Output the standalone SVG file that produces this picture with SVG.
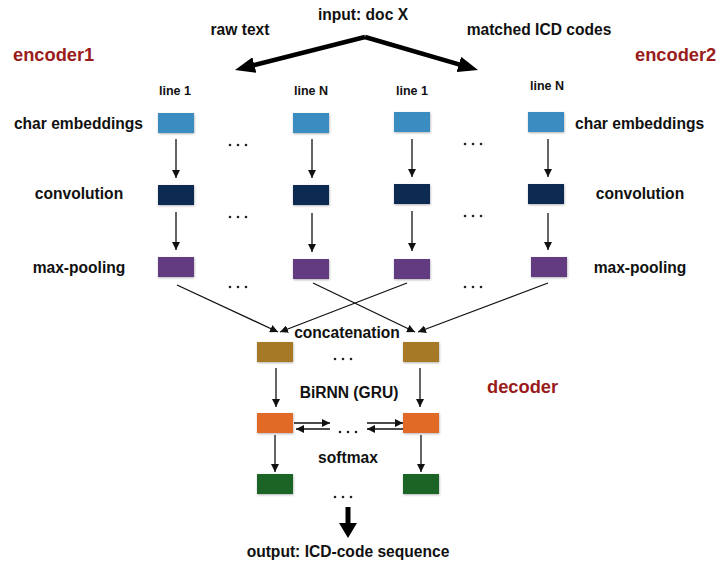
<svg xmlns="http://www.w3.org/2000/svg" width="720" height="563" viewBox="0 0 720 563">
<style>
text{font-family:"Liberation Sans",Arial,Helvetica,sans-serif;font-weight:bold;fill:#111}
.lbl{font-size:15.6px}
.sm{font-size:12.5px}
.ttl{font-size:18.3px;fill:#9a1b1b}
.top{font-size:15.6px}
.box{stroke:none;filter:url(#sh)}
.emb{fill:#3a8dc1}
.conv{fill:#0b2a53}
.pool{fill:#623a80}
.cat{fill:#a67925}
.rnn{fill:#e06b27}
.soft{fill:#1c6426}
.thin{stroke:#111;stroke-width:1.3;fill:none;marker-end:url(#ah)}
.thick{stroke:#000;stroke-width:4.5;fill:none;marker-end:url(#bh)}
.dot{fill:#222}
</style>
<defs>
<filter id="sh" x="-20%" y="-20%" width="140%" height="160%">
<feDropShadow dx="0.5" dy="1" stdDeviation="0.8" flood-color="#000" flood-opacity="0.3"/>
</filter>
<marker id="ah" markerUnits="userSpaceOnUse" viewBox="0 0 8 8" markerWidth="8" markerHeight="8" refX="8" refY="4" orient="auto">
<path d="M0,0 L8,4 L0,8 z" fill="#111"/>
</marker>
<marker id="bh" markerUnits="userSpaceOnUse" viewBox="0 0 20 16" markerWidth="20" markerHeight="16" refX="10" refY="8" orient="auto">
<path d="M0,0 L20,8 L0,16 z" fill="#000"/>
</marker>
</defs>

<g id="labels">
<text class="top" x="363" y="20" text-anchor="middle">input: doc X</text>
<text class="lbl" x="240" y="35" text-anchor="middle">raw text</text>
<text class="lbl" x="539" y="35" text-anchor="middle">matched ICD codes</text>
<text class="ttl" x="13" y="61">encoder1</text>
<text class="ttl" x="635" y="61">encoder2</text>
<text class="ttl" x="487" y="393">decoder</text>
<text class="sm" x="175" y="95" text-anchor="middle">line 1</text>
<text class="sm" x="311" y="95" text-anchor="middle">line N</text>
<text class="sm" x="412" y="95" text-anchor="middle">line 1</text>
<text class="sm" x="547" y="90" text-anchor="middle">line N</text>
<text class="lbl" x="143" y="129" text-anchor="end">char embeddings</text>
<text class="lbl" x="79" y="199" text-anchor="middle">convolution</text>
<text class="lbl" x="79" y="273" text-anchor="middle">max-pooling</text>
<text class="lbl" x="575" y="129">char embeddings</text>
<text class="lbl" x="640" y="199" text-anchor="middle">convolution</text>
<text class="lbl" x="640" y="273" text-anchor="middle">max-pooling</text>
<text class="lbl" x="347" y="338" text-anchor="middle">concatenation</text>
<text class="lbl" x="349" y="398" text-anchor="middle">BiRNN (GRU)</text>
<text class="lbl" x="348" y="463" text-anchor="middle">softmax</text>
<text class="top" x="348" y="557" text-anchor="middle">output: ICD-code sequence</text>
</g>

<g id="enc1-line1">
<rect id="e1-emb1" class="box emb" x="158" y="113" width="36" height="20"/>
<rect id="e1-conv1" class="box conv" x="158" y="185" width="36" height="20"/>
<rect id="e1-pool1" class="box pool" x="158" y="257" width="36" height="20"/>
</g>
<g id="enc1-lineN">
<rect id="e1-embN" class="box emb" x="293" y="113" width="36" height="20"/>
<rect id="e1-convN" class="box conv" x="293" y="185" width="36" height="20"/>
<rect id="e1-poolN" class="box pool" x="293" y="259" width="36" height="20"/>
</g>
<g id="enc2-line1">
<rect id="e2-emb1" class="box emb" x="394" y="112" width="36" height="20"/>
<rect id="e2-conv1" class="box conv" x="394" y="184" width="36" height="20"/>
<rect id="e2-pool1" class="box pool" x="394" y="259" width="36" height="20"/>
</g>
<g id="enc2-lineN">
<rect id="e2-embN" class="box emb" x="528" y="112" width="36" height="20"/>
<rect id="e2-convN" class="box conv" x="528" y="184" width="36" height="20"/>
<rect id="e2-poolN" class="box pool" x="531" y="257" width="36" height="20"/>
</g>
<g id="dec-1">
<rect id="cat1" class="box cat" x="257" y="342" width="36" height="20"/>
<rect id="rnn1" class="box rnn" x="257" y="413" width="36" height="20"/>
<rect id="soft1" class="box soft" x="257" y="474" width="36" height="20"/>
</g>
<g id="dec-N">
<rect id="catN" class="box cat" x="403" y="342" width="36" height="20"/>
<rect id="rnnN" class="box rnn" x="403" y="413" width="36" height="20"/>
<rect id="softN" class="box soft" x="403" y="474" width="36" height="20"/>
</g>

<g id="ellipses">
<circle class="dot" cx="230" cy="145" r="1.3"/><circle class="dot" cx="238" cy="145" r="1.3"/><circle class="dot" cx="246" cy="145" r="1.3"/>
<circle class="dot" cx="230" cy="217" r="1.3"/><circle class="dot" cx="238" cy="217" r="1.3"/><circle class="dot" cx="246" cy="217" r="1.3"/>
<circle class="dot" cx="230" cy="287" r="1.3"/><circle class="dot" cx="238" cy="287" r="1.3"/><circle class="dot" cx="246" cy="287" r="1.3"/>
<circle class="dot" cx="465" cy="144" r="1.3"/><circle class="dot" cx="473" cy="144" r="1.3"/><circle class="dot" cx="481" cy="144" r="1.3"/>
<circle class="dot" cx="465" cy="216" r="1.3"/><circle class="dot" cx="473" cy="216" r="1.3"/><circle class="dot" cx="481" cy="216" r="1.3"/>
<circle class="dot" cx="465" cy="287" r="1.3"/><circle class="dot" cx="473" cy="287" r="1.3"/><circle class="dot" cx="481" cy="287" r="1.3"/>
<circle class="dot" cx="335" cy="359" r="1.3"/><circle class="dot" cx="343" cy="359" r="1.3"/><circle class="dot" cx="351" cy="359" r="1.3"/>
<circle class="dot" cx="340" cy="432" r="1.3"/><circle class="dot" cx="348" cy="432" r="1.3"/><circle class="dot" cx="356" cy="432" r="1.3"/>
<circle class="dot" cx="335" cy="497" r="1.3"/><circle class="dot" cx="343" cy="497" r="1.3"/><circle class="dot" cx="351" cy="497" r="1.3"/>
</g>

<g id="connectors">
<line class="thick" x1="365" y1="37" x2="244.7" y2="67.5"/>
<line class="thick" x1="365" y1="37" x2="468.4" y2="67.2"/>
<line class="thin" x1="176" y1="139" x2="176" y2="178"/>
<line class="thin" x1="312" y1="139" x2="312" y2="178"/>
<line class="thin" x1="412" y1="139" x2="412" y2="177"/>
<line class="thin" x1="548" y1="139" x2="548" y2="177"/>
<line class="thin" x1="176" y1="212" x2="176" y2="250"/>
<line class="thin" x1="312" y1="213" x2="312" y2="252"/>
<line class="thin" x1="412" y1="211" x2="412" y2="251"/>
<line class="thin" x1="548" y1="213" x2="548" y2="250"/>
<line class="thin" x1="177" y1="285" x2="278" y2="332"/>
<line class="thin" x1="313" y1="283" x2="415" y2="332"/>
<line class="thin" x1="407" y1="283" x2="280" y2="332"/>
<line class="thin" x1="548" y1="283" x2="418" y2="332"/>
<line class="thin" x1="276" y1="368" x2="276" y2="407"/>
<line class="thin" x1="420" y1="368" x2="420" y2="407"/>
<line class="thin" x1="294" y1="423" x2="330" y2="423"/>
<line class="thin" x1="330" y1="429" x2="296" y2="429"/>
<line class="thin" x1="367" y1="423" x2="403" y2="423"/>
<line class="thin" x1="403" y1="429" x2="367" y2="429"/>
<line class="thin" x1="275" y1="435" x2="275" y2="472"/>
<line class="thin" x1="421" y1="435" x2="421" y2="472"/>
<line x1="348" y1="507" x2="348" y2="525" stroke="#000" stroke-width="5"/>
<path d="M339,523 L357,523 L348,538 z" fill="#000"/>
</g>
</svg>
